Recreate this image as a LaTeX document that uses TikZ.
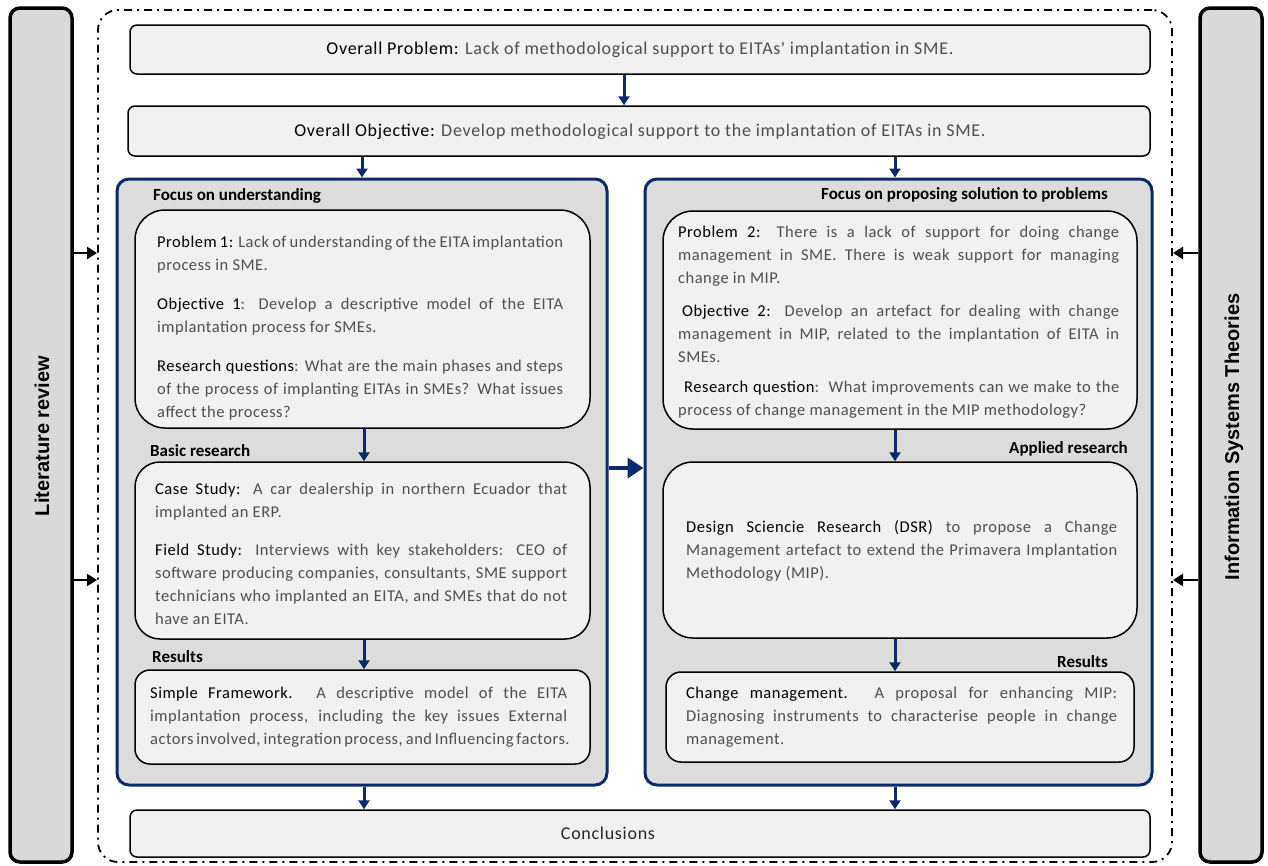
\documentclass[tikz,border=0pt]{standalone}
\usepackage{fontspec}
\setmainfont{Carlito}
\newfontfamily\bodyfont{Carlito}[LetterSpace=3]
\newfontfamily\headfont{Carlito}[LetterSpace=4]
\newfontfamily\sidefont{Liberation Sans}
\usetikzlibrary{arrows.meta,fit}
\definecolor{navyblue}{HTML}{0B2A6B}
\definecolor{sidegray}{HTML}{D9D9D9}
\definecolor{panelfill}{HTML}{DCDCDC}
\definecolor{boxfill}{HTML}{F1F1F1}
\definecolor{bodygray}{HTML}{4E4E4E}
\newcommand{\lead}[1]{\textcolor{black}{#1}}
\hyphenpenalty=10000
\exhyphenpenalty=10000
\begin{document}
\begin{tikzpicture}[x=1pt,y=-1pt,
  sidebar/.style={draw=black, line width=3.5pt, fill=sidegray, rounded corners=10pt, inner sep=0pt},
  sidelabel/.style={font=\sidefont\bfseries\fontsize{20}{23}\selectfont, rotate=90, inner sep=0pt},
  frame/.style={draw, line width=1.8pt, dash pattern=on 8pt off 5pt on 2pt off 5pt, rounded corners=20pt, inner sep=0pt},
  topbox/.style={draw, line width=1.5pt, fill=boxfill, rounded corners=7pt, inner sep=0pt},
  panel/.style={draw=navyblue, line width=3pt, fill=panelfill, rounded corners=12pt, inner sep=0pt},
  card/.style={draw, line width=1.5pt, fill=boxfill, rounded corners=#1, inner sep=0pt},
  flow/.style={navyblue, line width=3pt, -{Triangle[width=11pt,length=9pt]}},
  bigflow/.style={navyblue, line width=4.5pt, -{Triangle[width=20pt,length=16pt]}},
  feed/.style={black, line width=2.5pt, -{Triangle[width=12pt,length=10pt]}},
  body/.style={text=bodygray, anchor=north west, inner sep=0pt, text width=#1, align=justify,
    font=\bodyfont\fontsize{16.5}{23}\selectfont},
  headline/.style={text=bodygray, inner sep=0pt, font=\headfont\fontsize{18}{22}\selectfont},
  tag/.style={font=\bfseries\fontsize{17}{19}\selectfont, inner sep=0pt}
]
\useasboundingbox (0,0) rectangle (1268,865);

% side bars
\node[sidebar, fit={(10,8) (72,862)}] (lit) {};
\node[sidelabel] (litlabel) at (42,436) {Literature review};
\node[sidebar, fit={(1200,8) (1262,862)}] (ist) {};
\node[sidelabel] (istlabel) at (1234,437) {Information Systems Theories};

% dash-dot frame
\node[frame, fit={(98,10) (1172,862)}] (frame) {};

% feed arrows from the side bars
\coordinate (fl1) at (97,253);
\coordinate (fl2) at (97,580);
\coordinate (fr1) at (1173,253);
\coordinate (fr2) at (1173,580);
\draw[feed] (lit.east |- fl1) -- (fl1);
\draw[feed] (lit.east |- fl2) -- (fl2);
\draw[feed] (ist.west |- fr1) -- (fr1);
\draw[feed] (ist.west |- fr2) -- (fr2);

% overall problem / objective
\node[topbox, fit={(130,25) (1150,74)}] (prob) {};
\node[headline] (probtext) at (640,50) {\lead{Overall Problem:} Lack of methodological support to EITAs' implantation in SME.};
\node[topbox, fit={(128,106) (1150,156)}] (obj) {};
\node[headline] (objtext) at (640,132) {\lead{Overall Objective:} Develop methodological support to the implantation of EITAs in SME.};
\draw[flow] (prob.south -| 624,0) -- (obj.north -| 624,0);

% panels
\node[panel, fit={(117,179) (607,785)}] (left) {};
\node[panel, fit={(645,179) (1152,785)}] (right) {};
\draw[flow] (obj.south -| 362,0) -- (left.north -| 362,0);
\draw[flow] (obj.south -| 895,0) -- (right.north -| 895,0);
\draw[bigflow] (left.east |- 0,468) -- (right.west |- 0,468);

% left panel
\node[tag, anchor=west] (lfocus) at (153,196) {Focus on understanding};
\node[card=30pt, fit={(135,210) (590,428)}] (p1) {};
\node[body=406pt] (p1text) at (157,236) {\lead{Problem 1:} Lack of understanding of the EITA implantation\linebreak process in SME.\par\vspace{16pt}
\lead{Objective 1}: Develop a descriptive model of the EITA\linebreak implantation process for SMEs.\par\vspace{16pt}
\lead{Research questions}: What are the main phases and steps\linebreak of the process of implanting EITAs in SMEs? What issues\linebreak affect the process?};
\node[tag, anchor=west] (lbasic) at (150,451) {Basic research};
\node[card=25pt, fit={(135,462) (590,639)}] (cs) {};
\node[body=412pt] (cstext) at (155,483) {\lead{Case Study:} A car dealership in northern Ecuador that\linebreak implanted an ERP.\par\vspace{15pt}
\lead{Field Study:} Interviews with key stakeholders: CEO of\linebreak software producing companies, consultants, SME support\linebreak technicians who implanted an EITA, and SMEs that do not\linebreak have an EITA.};
\node[tag, anchor=west] (lres) at (152,657) {Results};
\node[card=15pt, fit={(135,670) (590,764)}] (sf) {};
\node[body=417pt] (sftext) at (150,687) {\lead{Simple Framework.} A descriptive model of the EITA\linebreak implantation process, including the key issues External\linebreak actors involved, integration process, and Influencing factors.};
\draw[flow] (p1.south -| 364,0) -- (cs.north -| 364,0);
\draw[flow] (cs.south -| 364,0) -- (sf.north -| 364,0);

% right panel
\node[tag, anchor=east] (rfocus) at (1108,195) {Focus on proposing solution to problems};
\node[card=30pt, fit={(663,211) (1137,429)}] (p2) {};
\node[body=441pt] (p2text) at (678,226) {\lead{Problem 2:} There is a lack of support for doing change\linebreak management in SME. There is weak support for managing\linebreak change in MIP.\par\vspace{10pt}
\hspace*{4pt}\lead{Objective 2:} Develop an artefact for dealing with change\linebreak management in MIP, related to the\ implantation of EITA in\linebreak SMEs.\par\vspace{7pt}
\hspace*{6pt}\lead{Research question}:\ \ What improvements can we make to the\linebreak process of change management in the MIP methodology?};
\node[tag, anchor=east] (rapp) at (1128,449) {Applied research};
\node[card=30pt, fit={(663,462) (1137,638)}] (dsr) {};
\node[body=431pt] (dsrtext) at (686,520) {\lead{Design Sciencie Research (DSR)} to propose a Change\linebreak Management artefact to extend the Primavera Implantation\linebreak Methodology (MIP).};
\node[tag, anchor=east] (rres) at (1108,662) {Results};
\node[card=15pt, fit={(666,672) (1134,762)}] (cm) {};
\node[body=431pt] (cmtext) at (686,687) {\lead{Change management.} A proposal for enhancing MIP:\linebreak Diagnosing instruments to characterise people in change\linebreak management.};
\draw[flow] (p2.south -| 895,0) -- (dsr.north -| 895,0);
\draw[flow] (dsr.south -| 895,0) -- (cm.north -| 895,0);

% conclusions
\node[topbox, fit={(130,810) (1150,857)}] (conc) {};
\node[headline, text=black!85] (conctext) at (608,833) {Conclusions};
\draw[flow] (left.south -| 364,0) -- (conc.north -| 364,0);
\draw[flow] (right.south -| 895,0) -- (conc.north -| 895,0);
\end{tikzpicture}
\end{document}
